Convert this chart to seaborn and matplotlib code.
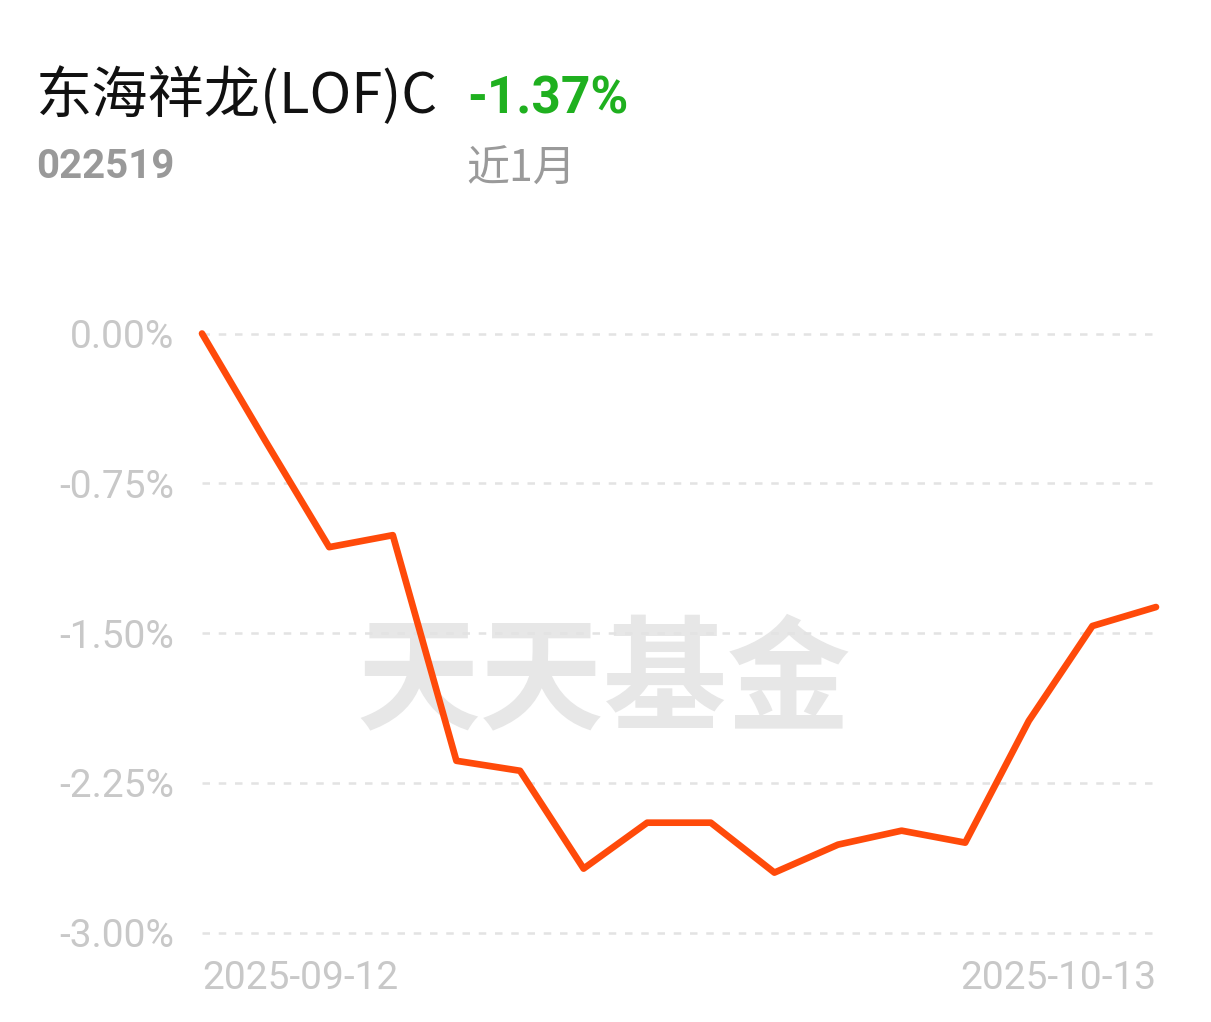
import matplotlib
matplotlib.use("Agg")
import matplotlib.pyplot as plt
import seaborn as sns
import pandas as pd

sns.set_style("white")
plt.rcParams["font.family"] = ["Roboto", "Noto Sans CJK SC", "DejaVu Sans"]

# ---------- data ----------
fund_name = "东海祥龙(LOF)C"
fund_code = "022519"
period_label = "近1月"
period_return = "-1.37%"

dates = ["2025-09-12", "2025-09-15", "2025-09-16", "2025-09-17", "2025-09-18",
         "2025-09-19", "2025-09-22", "2025-09-23", "2025-09-24", "2025-09-25",
         "2025-09-26", "2025-09-29", "2025-09-30", "2025-10-09", "2025-10-10",
         "2025-10-13"]
returns = [0.00, -0.54, -1.07, -1.01, -2.14, -2.19, -2.68, -2.45, -2.45, -2.70,
           -2.56, -2.49, -2.55, -1.94, -1.465, -1.37]
y_ticks = [0.00, -0.75, -1.50, -2.25, -3.00]
y_tick_labels = ["0.00%", "-0.75%", "-1.50%", "-2.25%", "-3.00%"]

df = pd.DataFrame({"date": dates, "ret": returns})
df["idx"] = range(len(df))

W, H = 1211, 1022
fig = plt.figure(figsize=(W / 100, H / 100), dpi=100)
ax = fig.add_axes([202 / W, 1 - 932.5 / H, (1156 - 202) / W, (932.5 - 333.5) / H])

# watermark
ax.text(0.421, 0.416, "天天基金", transform=ax.transAxes, ha="center", va="center",
        fontsize=89, fontweight="bold", color="#e7e7e7", family=["Noto Sans CJK SC"],
        zorder=0)

for t in y_ticks:
    ax.axhline(t, color="#e3e3e3", lw=1.8, ls=(0, (3, 3.5)), zorder=1, clip_on=False)

sns.lineplot(data=df, x="idx", y="ret", ax=ax, color="#ff4a0a", linewidth=4.8,
             zorder=3, clip_on=False, solid_capstyle="round", solid_joinstyle="round")

ax.set_xlim(0, len(df) - 1)
ax.set_ylim(-3.0, 0.0)
ax.set_yticks(y_ticks)
ax.set_yticklabels(y_tick_labels, fontsize=28, color="#c8c8c8")
ax.set_xticks([0, len(df) - 1])
ax.set_xticklabels([dates[0], dates[-1]], fontsize=28, color="#c8c8c8")
xl = ax.get_xticklabels()
xl[0].set_ha("left")
xl[1].set_ha("right")
ax.tick_params(axis="y", length=0, pad=20)
ax.tick_params(axis="x", length=0, pad=20)
ax.set_xlabel("")
ax.set_ylabel("")
for s in ax.spines.values():
    s.set_visible(False)

# header
fig.text(36 / W, 1 - 97 / H, fund_name, fontsize=40.5, color="#111111",
         family=["Noto Sans CJK SC"], va="center", ha="left")
fig.text(467 / W, 1 - 99 / H, period_return, fontsize=37, fontweight="bold",
         color="#1fb01f", va="center", ha="left")
fig.text(36 / W, 1 - 167 / H, fund_code, fontsize=29, fontweight="bold",
         color="#999999", va="center", ha="left")
fig.text(466 / W, 1 - 170 / H, period_label, fontsize=31, color="#9a9a9a",
         family=["Noto Sans CJK SC"], va="center", ha="left")

plt.savefig("out.png", dpi=100)
plt.close()
